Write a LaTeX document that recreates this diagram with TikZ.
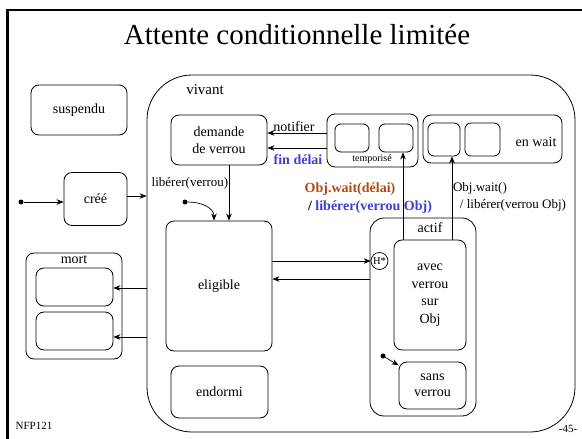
\documentclass[tikz,border=0pt]{standalone}
\usepackage{fontspec}
\setmainfont{Liberation Serif}
\usetikzlibrary{arrows.meta}
\definecolor{waitbrown}{RGB}{176,74,24}
\definecolor{relblue}{RGB}{58,62,218}
\begin{document}
\begin{tikzpicture}[x=1pt,y=-1pt,
  box/.style={draw,line width=0.8pt,rounded corners=8pt,inner sep=0pt,align=center,
     font=\fontsize{14}{17}\selectfont},
  sz/.style 2 args={minimum width=#1pt,minimum height=#2pt},
  txt/.style={inner sep=0pt,font=\fontsize{14}{17}\selectfont},
  note/.style={inner sep=0pt,font=\fontsize{13}{15}\selectfont},
  boldnote/.style={inner sep=0pt,font=\fontsize{14}{16}\selectfont\bfseries},
  arr/.style={-{Stealth[length=7pt,width=5.5pt]},line width=0.7pt},
  startdot/.style={circle,fill,inner sep=0pt,minimum size=5pt}]
\useasboundingbox (0,0) rectangle (582,439);

% slide frame
\draw[line width=3pt] (7.5,439) -- (7.5,10);
\draw[line width=2pt] (6,10) -- (582,10);
\node[inner sep=0pt,font=\fontsize{29}{33}\selectfont] (title) at (297,35) {Attente conditionnelle limitée};
\node[inner sep=0pt,font=\fontsize{11}{13}\selectfont] (course) at (34,426) {NFP121};
\node[inner sep=0pt,font=\fontsize{11}{13}\selectfont] (page) at (568,429) {-45-};

% outer states
\node[box,sz={96}{50}] (suspendu) at (79,110) {suspendu};
\node[box,sz={63}{53}] (cree) at (95.5,199) {créé};
\node[box,sz={96}{106}] (mort) at (74,306) {};
\node[txt] (mortlbl) at (74,260) {mort};
\node[box,sz={77}{38}] (mortA) at (74.5,287) {};
\node[box,sz={77}{38}] (mortB) at (74.5,331) {};

% composite state "vivant"
\node[box,rounded corners=45pt,sz={428}{357}] (vivant) at (361,253.5) {};
\node[txt,font=\fontsize{15}{17}\selectfont] (vivantlbl) at (205,90) {vivant};
\node[box,sz={96}{50}] (demande) at (219,140) {demande\\de verrou};
\node[box,sz={106}{130}] (eligible) at (219,286) {eligible};
\node[box,sz={97}{52}] (endormi) at (219.5,392) {endormi};

% waiting states
\node[box,sz={91}{53}] (temp) at (372.5,140.5) {};
\node[box,rounded corners=6pt,sz={34}{28}] (tempA) at (352,138) {};
\node[box,rounded corners=6pt,sz={34}{28}] (tempB) at (396,138) {};
\node[inner sep=0pt,font=\fontsize{10}{12}\selectfont] (templbl) at (372,159) {temporisé};
\node[box,sz={139}{48}] (wait) at (492.5,139) {};
\node[box,rounded corners=6pt,sz={32}{33}] (waitA) at (444,139.5) {};
\node[box,rounded corners=6pt,sz={35}{33}] (waitB) at (482.5,139.5) {};
\node[txt] (waitlbl) at (536,142) {en wait};

% composite state "actif"
\node[box,rounded corners=14pt,sz={106}{198}] (actif) at (423,317) {};
\node[txt] (actiflbl) at (430,228) {actif};
\node[box,font=\fontsize{14}{17.5}\selectfont,sz={72}{110}] (avec) at (430,295) {avec\\verrou\\sur\\Obj};
\node[box,font=\fontsize{14}{16.5}\selectfont,sz={67}{47}] (sans) at (432.5,385.5) {sans\\verrou};
\node[circle,draw,line width=0.7pt,minimum size=17pt,inner sep=0pt,font=\fontsize{10.5}{12}\selectfont] (hist) at (379.5,261) {H*};

% rows and columns used by the connectors
\coordinate (rowA) at (0,196);
\coordinate (rowB) at (0,288);
\coordinate (rowC) at (0,337);
\coordinate (rowD) at (0,133);
\coordinate (rowE) at (0,148);
\coordinate (rowF) at (0,279);
\coordinate (colA) at (229,0);
\coordinate (colB) at (214,0);
\coordinate (colC) at (403,0);
\coordinate (colD) at (452,0);

% transitions
\node[startdot] (init1) at (21,202) {};
\draw[arr] (init1) -- (init1 -| cree.west);
\draw[arr] (cree.east |- rowA) -- (vivant.west |- rowA);
\draw[arr] (vivant.west |- rowB) -- (mortA.east |- rowB);
\draw[arr] (vivant.west |- rowC) -- (mortB.east |- rowC);

\draw[arr] (temp.west |- rowD) -- (demande.east |- rowD);
\draw[arr] (temp.west |- rowE) -- (demande.east |- rowE);
\node[txt] (notif) at (294,127) {notifier};
\node[boldnote,text=relblue] (findelai) at (298,160) {fin délai};

\draw[arr] (demande.south -| colA) -- (eligible.north -| colA);
\node[note] (liberer) at (190,183) {libérer(verrou)};
\node[startdot] (init2) at (185,202) {};
\draw[arr] (init2) .. controls +(18,0) and +(0,-12) .. (eligible.north -| colB);

\draw[arr] (eligible.east |- hist.west) -- (hist.west);
\draw[arr] (actif.west |- rowF) -- (eligible.east |- rowF);

\draw[arr] (avec.north -| colC) -- (tempB.south -| colC);
\draw[arr] (avec.north -| colD) -- (waitA.south -| colD);
\node[boldnote,text=waitbrown] (waitdelai) at (350,189) {Obj.wait(délai)};
\node[boldnote] (reldelai) at (370,207) {/ \textcolor{relblue}{libérer(verrou Obj)}};
\node[note] (waitplain) at (480,188) {Obj.wait()};
\node[note] (relplain) at (513,205) {/ libérer(verrou Obj)};

\node[startdot] (init3) at (383,356) {};
\draw[arr] (init3) -- (sans);
\end{tikzpicture}
\end{document}
